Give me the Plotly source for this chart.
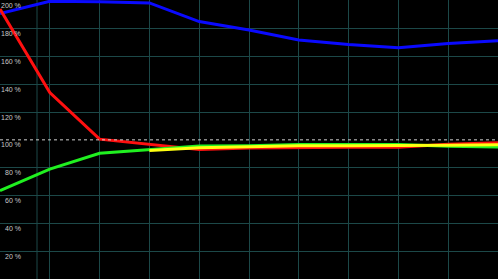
import plotly.graph_objects as go

x_idx = [0, 1, 2, 3, 4, 5, 6, 7, 8, 9, 10]
blue = [190.8, 199.6, 199.2, 198.4, 185.0, 179.0, 171.8, 168.6, 166.2, 169.3, 171.2]
red = [194.0, 134.0, 100.5, 97.0, 93.0, 94.2, 94.6, 94.6, 94.6, 96.8, 98.0]
green = [63.5, 79.0, 90.3, 92.7, 95.6, 95.8, 96.6, 96.6, 96.6, 95.4, 94.8]
yellow = [None, None, None, 92.3, 94.3, 95.0, 95.8, 95.8, 95.8, 96.2, 96.4]
tick_vals = [20, 40, 60, 80, 100, 120, 140, 160, 180, 200]
tick_text = [f"{v} %" for v in tick_vals]

grid = "#1c4848"
fig = go.Figure()
for name, ys, col in [("blue", blue, "#0a0aff"), ("red", red, "#ff1010"),
                      ("green", green, "#20f020"), ("yellow", yellow, "#ffff10")]:
    fig.add_trace(go.Scatter(x=x_idx, y=ys, mode="lines", name=name,
                             line=dict(color=col, width=3), connectgaps=False))

# dashed reference line at 100 %
fig.add_shape(type="line", xref="paper", x0=0, x1=1, yref="y", y0=100, y1=100,
              line=dict(color="#d0d0d0", width=1, dash="3px,3px"), layer="above")
# label column separator
fig.add_shape(type="line", xref="paper", x0=37/498, x1=37/498, yref="paper", y0=0, y1=1,
              line=dict(color=grid, width=1), layer="below")

for v, t in zip(tick_vals, tick_text):
    fig.add_annotation(x=23/498, xref="paper", y=v - 3.6, yref="y", text=t,
                       showarrow=False, xanchor="right", yanchor="middle",
                       font=dict(family="Liberation Sans", size=7, color="#c8c8c8"))

fig.update_layout(
    width=498, height=279, margin=dict(l=0, r=0, t=0, b=0),
    paper_bgcolor="black", plot_bgcolor="black", showlegend=False,
    xaxis=dict(range=[0, 10], dtick=1, showticklabels=False, showgrid=True,
               gridcolor=grid, gridwidth=1, zeroline=False, showline=True,
               linecolor=grid, mirror=True, fixedrange=True),
    yaxis=dict(range=[0, 200.5], tickvals=[0, 20, 40, 60, 80, 120, 140, 160, 180, 200],
               showticklabels=False, showgrid=True, gridcolor=grid, gridwidth=1,
               zeroline=False, showline=True, linecolor=grid, mirror=True, fixedrange=True),
)
fig.write_html("out.html", config={"displayModeBar": False})
